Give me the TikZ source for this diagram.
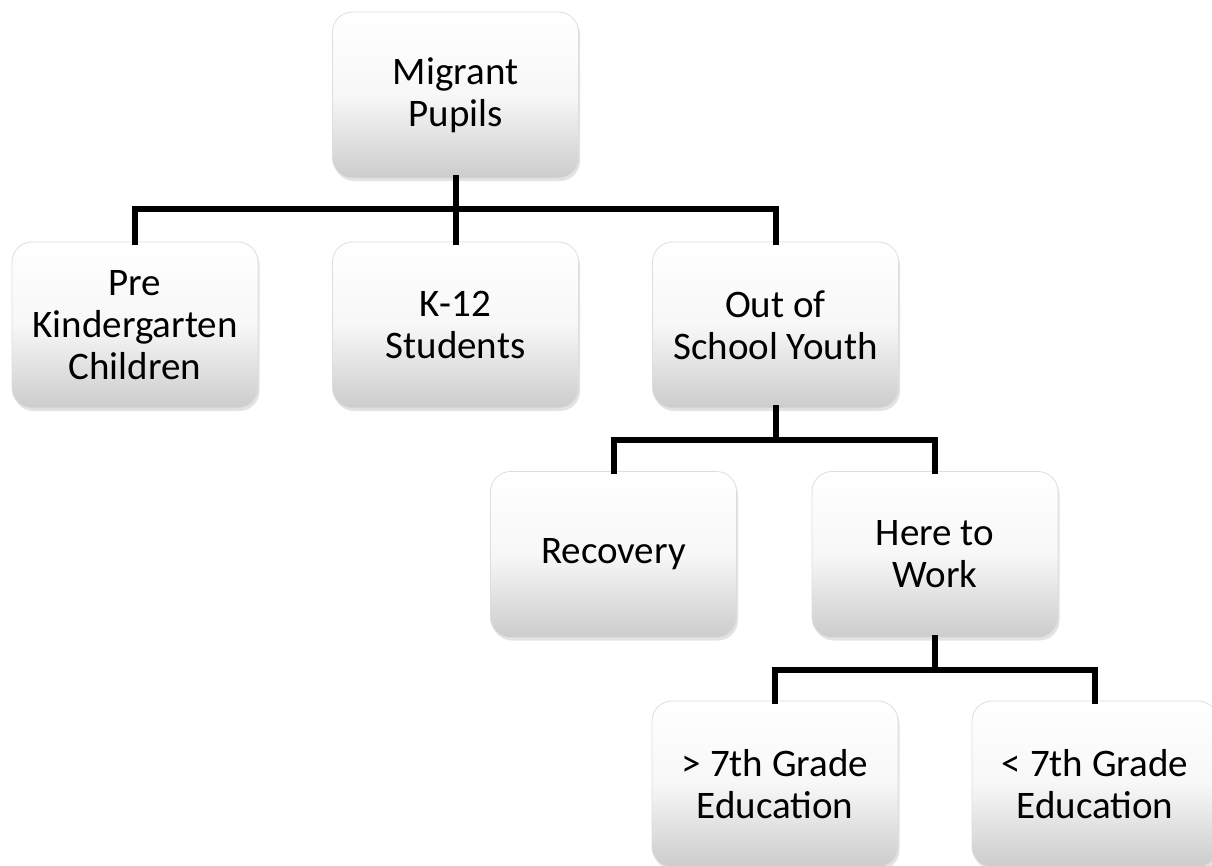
\documentclass[tikz,border=0pt]{standalone}
\usepackage{fontspec}
\setmainfont{Carlito}
\usetikzlibrary{shadows}
\begin{document}
\begin{tikzpicture}[x=1pt,y=-1pt,
  box/.style={rectangle, rounded corners=20pt, minimum width=246pt, minimum height=166pt,
    inner sep=0pt, align=center, top color=white, bottom color=black!20, middle color=white!97!black,
    draw=black!13, line width=0.8pt,
    font=\fontsize{39}{42}\selectfont,
    drop shadow={opacity=0.22, shadow xshift=1.5pt, shadow yshift=-3pt}},
  conn/.style={line width=6pt, line join=miter, line cap=rect, black}]
\useasboundingbox (0,0) rectangle (1212,865);
\clip (0,0) rectangle (1212,865);
\node[box] (root) at (455.5,95) {Migrant\\Pupils};
\node[box] (pk) at (135,325) {Pre\\Kindergarten\\Children};
\node[box] (k12) at (455.5,325) {K-12\\Students};
\node[box] (oos) at (775.5,325) {Out of\\School Youth};
\node[box] (rec) at (613.5,554.5) {Recovery};
\node[box] (htw) at (935,554.5) {Here to\\Work};
\node[box] (g1) at (775,784) {> 7th Grade\\Education};
\node[box] (g2) at (1095,784) {< 7th Grade\\Education};
\coordinate (bus1) at (455.5,209);
\coordinate (bus2) at (775.5,440);
\coordinate (bus3) at (935,670);
\draw[conn] (pk.north) |- (bus1) -| (oos.north);
\draw[conn] (root.south) -- (k12.north);
\draw[conn] (rec.north) |- (bus2) -| (htw.north);
\draw[conn] (oos.south) -- (bus2);
\draw[conn] (g1.north) |- (bus3) -| (g2.north);
\draw[conn] (htw.south) -- (bus3);
\end{tikzpicture}
\end{document}
